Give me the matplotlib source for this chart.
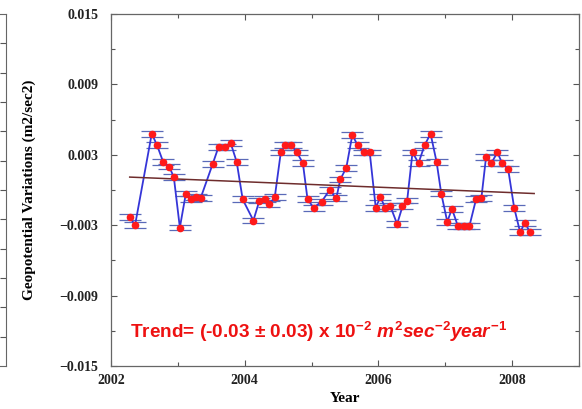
import numpy as np
import matplotlib
matplotlib.use("Agg")
import matplotlib.pyplot as plt

# monthly geopotential values
years = [2002.28, 2002.36, 2002.61, 2002.69, 2002.78, 2002.87, 2002.94, 2003.03,
         2003.12, 2003.19, 2003.27, 2003.34, 2003.52, 2003.61, 2003.70, 2003.79,
         2003.88, 2003.97, 2004.13, 2004.22, 2004.30, 2004.37, 2004.45, 2004.54,
         2004.61, 2004.70, 2004.78, 2004.87, 2004.94, 2005.03, 2005.15, 2005.27,
         2005.37, 2005.43, 2005.52, 2005.61, 2005.69, 2005.78, 2005.87, 2005.96,
         2006.03, 2006.10, 2006.18, 2006.28, 2006.36, 2006.43, 2006.51, 2006.60,
         2006.69, 2006.78, 2006.87, 2006.94, 2007.03, 2007.10, 2007.19, 2007.28,
         2007.36, 2007.46, 2007.54, 2007.61, 2007.69, 2007.78, 2007.85, 2007.94,
         2008.03, 2008.12, 2008.19, 2008.27]
geopot = [-0.0023, -0.0030, 0.0048, 0.0038, 0.0024, 0.0020, 0.0011, -0.0032,
          -0.0003, -0.0008, -0.0006, -0.0007, 0.0022, 0.0037, 0.0037, 0.0040,
          0.0024, -0.0008, -0.0026, -0.0009, -0.0008, -0.0012, -0.0006, 0.0032,
          0.0038, 0.0038, 0.0032, 0.0023, -0.0008, -0.0015, -0.0010, 0.0000,
          -0.0007, 0.0009, 0.0019, 0.0047, 0.0038, 0.0032, 0.0032, -0.0015,
          -0.0006, -0.0015, -0.0014, -0.0029, -0.0014, -0.0009, 0.0032, 0.0023,
          0.0038, 0.0048, 0.0024, -0.0003, -0.0027, -0.0016, -0.0031, -0.0031,
          -0.0031, -0.0008, -0.0007, 0.0028, 0.0023, 0.0032, 0.0023, 0.0018,
          -0.0015, -0.0036, -0.0028, -0.0036]
err = 0.00025

trend_years = [2002.28, 2008.33]
trend_vals = [0.0011, -0.0003]

ytick_major = [0.015, 0.009, 0.003, -0.003, -0.009, -0.015]
ytick_text = ["0.015", "0.009", "0.003", "\u22120.003", "\u22120.009", "\u22120.015"]
xtick_major = [2002, 2004, 2006, 2008]

serif = "Liberation Serif"
plt.rcParams['mathtext.fontset'] = 'custom'
plt.rcParams['mathtext.rm'] = 'Liberation Sans:bold'
plt.rcParams['mathtext.it'] = 'Liberation Sans:italic:bold'

fig = plt.figure(figsize=(5.82, 4.09), dpi=100)
ax = fig.add_axes([0.1907, 0.1051, 0.8041, 0.8607])

ax.errorbar(years, geopot, yerr=err, fmt='none', ecolor='#5a6ab8',
            elinewidth=0.8, capsize=8, capthick=0.9, zorder=2)
ax.plot(years, geopot, '-', color='#3535d8', lw=1.3, zorder=3)
ax.plot(years, geopot, 'o', color='#ff1a1a', ms=4.5, mec='#ff1a1a', zorder=4)
ax.plot(trend_years, trend_vals, '-', color='#6e2c2c', lw=1.1, zorder=3)

ax.set_xlim(2002, 2009)
ax.set_ylim(-0.015, 0.015)
ax.set_xticks(xtick_major)
ax.set_xticks(np.arange(2002, 2010, 1), minor=True)
ax.set_yticks(ytick_major)
ax.set_yticklabels(ytick_text)
ax.set_yticks(np.arange(-0.015, 0.0151, 0.003), minor=True)
ax.tick_params(which='both', direction='in', top=True, right=True,
               color='#555555', width=0.8)
ax.tick_params(which='major', length=4, pad=9)
ax.tick_params(axis='x', which='major', pad=6)
ax.tick_params(which='minor', length=3)
for lab in ax.get_xticklabels() + ax.get_yticklabels():
    lab.set_fontfamily(serif)
    lab.set_fontweight('bold')
    lab.set_fontsize(10)
    lab.set_color('#222222')
for sp in ax.spines.values():
    sp.set_color('#666666')
    sp.set_linewidth(0.9)

ax.set_xlabel("Year", fontfamily=serif, fontweight='bold', fontsize=11, labelpad=3)
ax.set_ylabel("Geopotential Variations (m2/sec2)", fontfamily=serif,
              fontweight='bold', fontsize=11, labelpad=17)

ax.text(2002.28, -0.0126,
        "Trend= (-0.03 \u00b1 0.03) x 10$^{-2}$ $m^{2}sec^{-2}year^{-1}$",
        color='#ee1111', fontsize=13.7, fontfamily='Liberation Sans',
        fontweight='bold', ha='left', va='baseline')

# edge of the neighbouring panel on the left
ax2 = fig.add_axes([-0.05, 0.1051, 0.0603, 0.8607])
ax2.set_xlim(0, 1)
ax2.set_ylim(0, 12)
ax2.set_xticks([])
ax2.set_yticks(np.arange(1, 12))
ax2.tick_params(axis='y', direction='in', left=False, right=True,
                labelleft=False, length=4, color='#555555')
for sp in ax2.spines.values():
    sp.set_color('#666666')

fig.savefig("out.png", dpi=100)
